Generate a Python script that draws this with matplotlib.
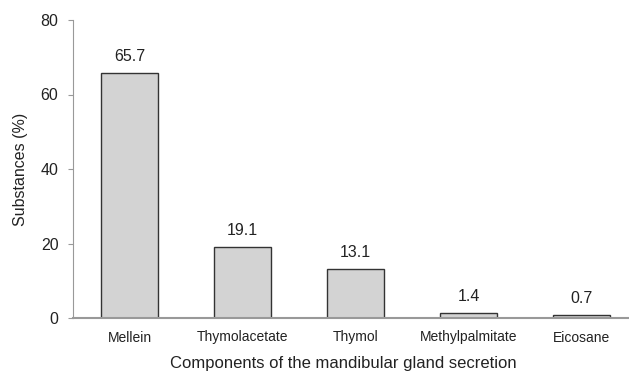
import matplotlib
matplotlib.use("Agg")
import matplotlib.pyplot as plt

categories = ["Mellein", "Thymolacetate", "Thymol", "Methylpalmitate", "Eicosane"]
values = [65.7, 19.1, 13.1, 1.4, 0.7]
yticks = [0, 20, 40, 60, 80]

plt.rcParams['font.family'] = ['Liberation Sans', 'DejaVu Sans']

fig = plt.figure(figsize=(6.29, 3.74), dpi=100)
ax = fig.add_axes([73 / 629, 1 - 318 / 374, 565 / 629, 298 / 374])

x = list(range(len(categories)))
ax.bar(x, values, width=0.51, color="#d3d3d3", edgecolor="#333333", linewidth=1.0, zorder=2)
for xi, v in zip(x, values):
    ax.annotate(f"{v}", (xi, v), xytext=(0, 6.5), textcoords="offset points",
                ha="center", va="bottom", fontsize=11.5, color="#222222")

ax.set_xlim(-0.5, 4.5)
ax.set_ylim(0, 80)
ax.set_yticks(yticks)
ax.set_xticks(x)
ax.set_xticklabels(categories, fontsize=10, color="#222222")
ax.tick_params(axis="x", length=0, pad=9)
ax.tick_params(axis="y", length=3.5, color="#999999", labelsize=11.5, labelcolor="#222222", pad=7)
for s in ["top", "right"]:
    ax.spines[s].set_visible(False)
ax.spines["left"].set_color("#999999")
ax.spines["bottom"].set_color("#999999")
ax.spines["bottom"].set_linewidth(1.5)
ax.set_ylabel("Substances (%)", fontsize=11.5, color="#222222", labelpad=9)
ax.set_xlabel("Components of the mandibular gland secretion", fontsize=12, color="#222222")
ax.xaxis.set_label_coords(0.478, -0.128)

fig.savefig("out.png", dpi=100)
